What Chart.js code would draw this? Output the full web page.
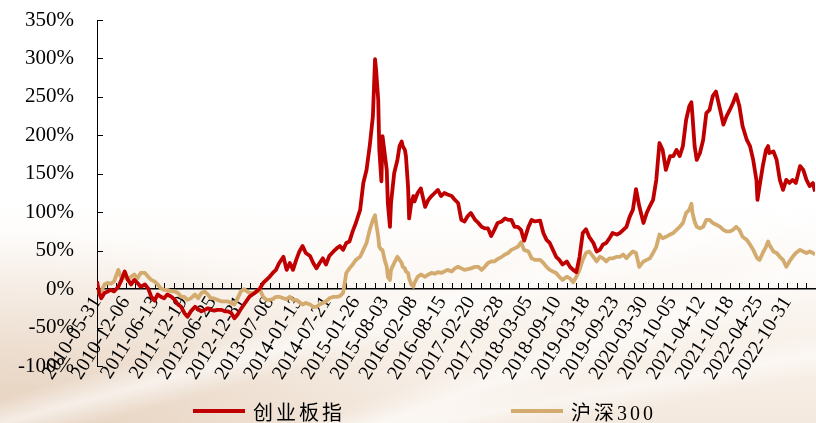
<!DOCTYPE html>
<html>
<head>
<meta charset="utf-8">
<script src="https://cdn.jsdelivr.net/npm/chart.js@4.4.1/dist/chart.umd.min.js"></script>
<style>
  html, body { margin: 0; padding: 0; background: #fff; }
  #wrap {
    position: relative; width: 816px; height: 423px; overflow: hidden;
    background:
      linear-gradient(165deg, rgba(255,255,255,0) 62%, rgba(255,255,255,0.6) 66%, rgba(255,255,255,0) 70%),
      linear-gradient(160deg, rgba(255,255,255,0) 74%, rgba(255,255,255,0.55) 78%, rgba(255,255,255,0) 83%),
      linear-gradient(170deg, rgba(255,255,255,0) 84%, rgba(255,255,255,0.5) 88%, rgba(255,255,255,0) 92%),
      radial-gradient(ellipse 55% 45% at 0% 100%, rgba(226,203,182,0.8), rgba(226,203,182,0) 100%),
      linear-gradient(to bottom, #ffffff 0%, #ffffff 48%, #fbf6f1 70%, #f4e9de 100%);
  }
  #chart { position: absolute; left: 0; top: 0; }
  .legend-item {
    position: absolute; top: 398px; height: 26px;
    display: flex; align-items: center;
    font: 20px "Liberation Serif", "Noto Sans CJK SC", serif;
    letter-spacing: 3px; color: #000;
  }
  .legend-item i { display: inline-block; width: 52px; height: 4px; margin-right: 8px; }
</style>
</head>
<body>
<div id="wrap">
  <canvas id="chart" width="816" height="423"></canvas>
  <div class="legend-item" style="left:193px"><i style="background:#C00000"></i>创业板指</div>
  <div class="legend-item" style="left:511px"><i style="background:#D4AB6F"></i>沪深300</div>
</div>
<script>
// 周序号（自 2010-05-31 起）
const weeks = [
  0, 2, 4, 7, 10, 13, 16, 20, 23, 26, 29, 32, 35, 38, 41, 45, 48, 51, 54, 57,
  60, 63, 66, 70, 73, 76, 79, 82, 85, 88, 92, 95, 98, 101, 104, 107, 110, 113, 117, 120,
  123, 126, 129, 132, 135, 138,
  143, 148, 153, 156, 159, 162, 165, 168, 171, 175, 178, 181, 184, 187, 190, 193, 196, 200, 203, 206,
  209, 212, 215, 218, 222, 225, 228, 231, 234, 237, 240, 243, 247, 250, 253, 256, 259, 261, 262, 264,
  265, 267, 268,
  270, 272, 273, 275, 276, 279, 282, 284, 286, 287, 289, 290, 292, 293, 295, 297, 298, 301, 304, 308,
  311, 314, 317, 320, 323, 326, 329, 333, 336, 339, 342, 345, 348, 351, 355, 358, 361, 364, 367, 370,
  373, 376, 380, 383, 386, 389, 392, 395, 398, 401, 405, 408, 411,
  416, 419, 422, 425, 428, 431, 434, 437, 441, 444, 447, 450, 453, 456, 459, 462, 466, 469, 472, 475,
  478, 481, 484, 488, 491, 494, 497, 500, 503, 506, 509, 513, 516, 519, 522, 525, 528, 531, 534, 538,
  541, 544, 547, 550, 553, 556, 558, 559, 561, 563, 566, 569, 572, 575, 578, 581, 585, 588, 591, 594,
  597, 600, 603, 606, 610, 613, 616, 619, 620, 622, 625, 628, 630, 631, 635, 638, 641, 644, 647, 650,
  653, 656, 660, 663, 666, 669, 672, 674
];

// 创业板指 累计涨跌幅（%）
const cybPct = [
  10, -5, -12, -5, -3, -1, -3, 3, 12, 23, 12, 6, 12, 8, 3, 6, 1, -10, -15, -7,
  -10, -12, -7, -10, -14, -20, -23, -31, -36, -29, -23, -26, -29, -27, -25, -27, -28, -27, -27, -29,
  -29, -31, -38, -33, -26, -20,
  -10, -5, 1, 8, 12, 16, 21, 25, 34, 42, 25, 34, 25, 38, 49, 56, 47, 43, 34, 27,
  34, 40, 32, 43, 49, 53, 56, 51, 60, 62, 75, 86, 103, 138, 155, 186, 225, 299, 285, 246,
  181, 140, 199,
  177, 155, 112, 81, 112, 151, 168, 186, 192, 186, 181, 173, 133, 92, 112, 121, 114, 125, 131, 107,
  116, 121, 125, 129, 121, 125, 123, 121, 116, 112, 90, 88, 95, 99, 90, 86, 81, 79, 79, 69,
  77, 86, 88, 92, 90, 90, 81, 81, 77, 63, 81, 90, 88,
  89, 73, 64, 60, 51, 42, 38, 32, 36, 29, 25, 22, 42, 73, 78, 68, 60, 49, 51, 58,
  60, 66, 73, 71, 73, 77, 81, 94, 103, 130, 108, 86, 99, 108, 116, 142, 190, 181, 155, 173,
  173, 181, 173, 186, 220, 238, 243, 225, 186, 168, 177, 194, 229, 233, 251, 257, 233, 214, 225, 233,
  242, 253, 238, 212, 194, 186, 168, 142, 116, 134, 160, 181, 186, 177, 179, 168, 142, 129, 142, 138,
  142, 138, 160, 155, 142, 134, 138, 127
];

// 沪深300 累计涨跌幅（%）
const hs300Pct = [
  0, -5, -3, 6, 8, 7, 10, 25, 14, 16, 12, 16, 19, 14, 21, 21, 16, 12, 10, 6,
  1, -1, -1, -3, -3, -5, -10, -10, -14, -12, -7, -12, -5, -3, -7, -12, -12, -14, -16, -16,
  -16, -18, -20, -12, -3, 0,
  -5, -5, -1, -10, -14, -14, -13, -10, -10, -12, -13, -10, -14, -14, -17, -20, -18, -20, -23, -23,
  -20, -18, -16, -12, -10, -10, -9, -5, 21, 27, 32, 38, 42, 51, 60, 77, 90, 96, 86, 68,
  55, 51, 51,
  38, 29, 16, 12, 25, 34, 42, 38, 34, 29, 27, 23, 21, 14, 6, 3, 8, 16, 19, 16,
  19, 21, 20, 22, 21, 23, 25, 23, 27, 29, 27, 25, 26, 27, 29, 29, 25, 29, 34, 36,
  36, 39, 42, 45, 47, 51, 53, 55, 61, 51, 49, 40, 38,
  38, 34, 29, 25, 23, 21, 16, 12, 16, 14, 9, 16, 25, 38, 47, 49, 42, 36, 42, 40,
  36, 40, 40, 42, 42, 45, 40, 45, 49, 47, 29, 36, 38, 40, 47, 55, 71, 66, 68, 71,
  73, 77, 81, 86, 99, 103, 111, 99, 88, 81, 79, 81, 90, 90, 86, 84, 81, 77, 75, 75,
  77, 81, 77, 68, 64, 58, 51, 42, 40, 38, 47, 55, 62, 58, 49, 47, 42, 38, 29, 36,
  42, 47, 51, 49, 47, 49, 47, 45
];

// 横轴日期标签，每 27 周一个
const dateLabels = [
  '2010-05-31', '2010-12-06', '2011-06-13', '2011-12-19', '2012-06-25',
  '2012-12-31', '2013-07-08', '2014-01-13', '2014-07-21', '2015-01-26',
  '2015-08-03', '2016-02-08', '2016-08-15', '2017-02-20', '2017-08-28',
  '2018-03-05', '2018-09-10', '2019-03-18', '2019-09-23', '2020-03-30',
  '2020-10-05', '2021-04-12', '2021-10-18', '2022-04-25', '2022-10-31'
];

const lastWeek = 674;
const tickEvery = 9;
const labelEvery = 27;

const toPoints = vals => weeks.map((w, i) => ({ x: w, y: vals[i] }));

// 去掉刻度标签带来的额外边距，绘图区完全由 layout.padding 决定
const noScalePadding = scale => {
  scale.paddingLeft = 0;
  scale.paddingRight = 0;
  scale.paddingTop = 0;
  scale.paddingBottom = 0;
};

// 刻度线朝内画：纵轴向右，横轴（0% 处）向上
const innerTicks = {
  id: 'innerTicks',
  beforeDatasetsDraw(chart) {
    const { ctx, chartArea, scales: { x, y } } = chart;
    ctx.save();
    ctx.strokeStyle = '#000';
    ctx.lineWidth = 1;
    ctx.beginPath();
    y.ticks.forEach(t => {
      const py = Math.round(y.getPixelForValue(t.value)) + 0.5;
      ctx.moveTo(chartArea.left, py);
      ctx.lineTo(chartArea.left + 6, py);
    });
    const y0 = Math.round(y.getPixelForValue(0));
    x.ticks.forEach(t => {
      const px = Math.round(x.getPixelForValue(t.value)) + 0.5;
      ctx.moveTo(px, y0);
      ctx.lineTo(px, y0 - 6);
    });
    ctx.stroke();
    ctx.restore();
  }
};

new Chart(document.getElementById('chart'), {
  type: 'line',
  data: {
    datasets: [
      {
        label: '创业板指',
        data: toPoints(cybPct),
        borderColor: '#C00000',
        borderWidth: 3.8,
        pointRadius: 0,
        tension: 0,
        borderJoinStyle: 'round'
      },
      {
        label: '沪深300',
        data: toPoints(hs300Pct),
        borderColor: '#D4AB6F',
        borderWidth: 3.8,
        pointRadius: 0,
        tension: 0,
        borderJoinStyle: 'round'
      }
    ]
  },
  options: {
    responsive: false,
    animation: false,
    layout: { padding: { top: 20, right: 1, bottom: 57, left: 0 } },
    plugins: {
      legend: { display: false },
      tooltip: { enabled: false }
    },
    scales: {
      x: {
        type: 'linear',
        position: { y: 0 },
        min: 0,
        max: lastWeek,
        grid: { drawOnChartArea: false, drawTicks: false },
        border: { display: true, color: '#000', width: 1.5 },
        afterBuildTicks: scale => {
          const list = [];
          for (let w = 0; w <= lastWeek; w += tickEvery) list.push({ value: w });
          scale.ticks = list;
        },
        afterFit: noScalePadding,
        ticks: {
          autoSkip: false,
          minRotation: 58,
          maxRotation: 58,
          padding: 3,
          color: '#000',
          font: { family: '"Liberation Serif", serif', size: 20 },
          callback: v => (v % labelEvery === 0 && dateLabels[v / labelEvery]) ? dateLabels[v / labelEvery] : ''
        }
      },
      y: {
        min: -100,
        max: 350,
        grid: { drawOnChartArea: false, drawTicks: false },
        border: { display: true, color: '#000', width: 1 },
        afterFit: scale => {
          scale.width = 97;
          noScalePadding(scale);
        },
        ticks: {
          stepSize: 50,
          padding: 23,
          color: '#000',
          font: { family: '"Liberation Serif", serif', size: 21 },
          callback: v => v + '%'
        }
      }
    }
  },
  plugins: [innerTicks]
});
</script>
</body>
</html>
